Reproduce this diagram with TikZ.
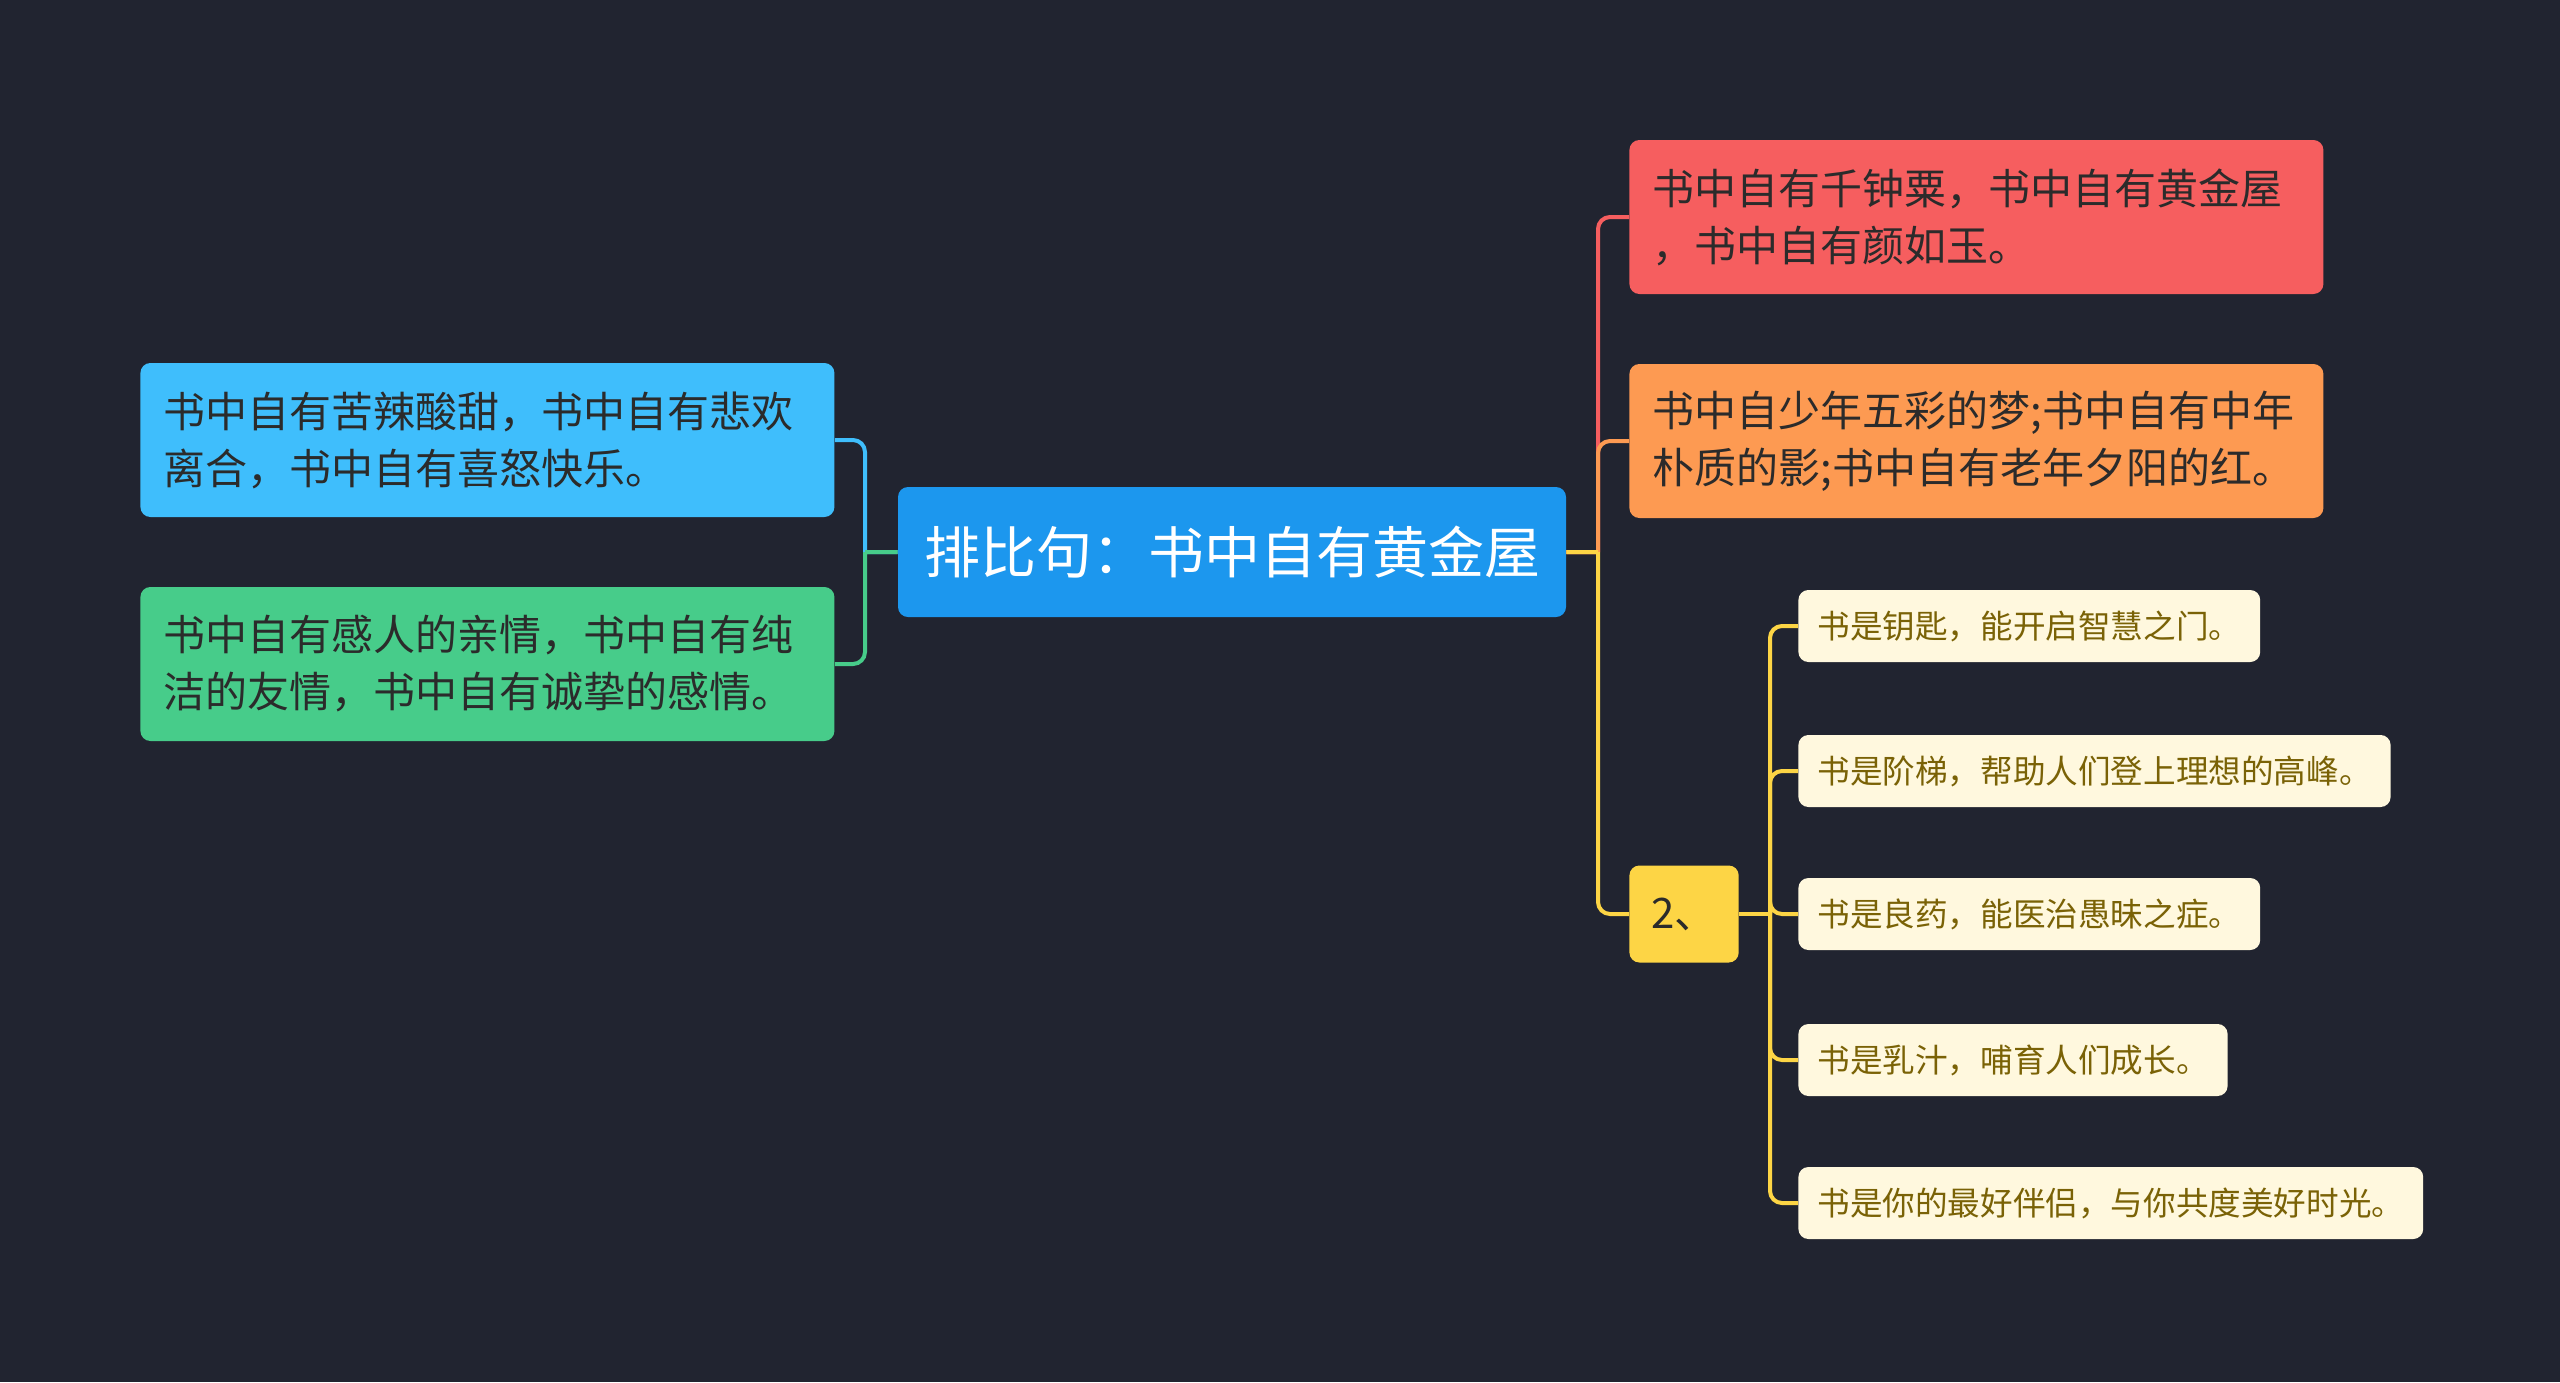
\documentclass[tikz,border=0pt]{standalone}
\usepackage{fontspec}
\newfontfamily\cjk{Noto Sans CJK SC}
\definecolor{canvas}{HTML}{212430}
\definecolor{rootblue}{HTML}{1C97EE}
\definecolor{skyblue}{HTML}{3FBEFC}
\definecolor{mintgreen}{HTML}{47CC8A}
\definecolor{coral}{HTML}{F65E5F}
\definecolor{apricot}{HTML}{FD9A52}
\definecolor{gold}{HTML}{FDD545}
\definecolor{cream}{HTML}{FFF8DE}
\definecolor{inkdark}{HTML}{2B2B2B}
\definecolor{inkbrown}{HTML}{7A6206}
\tikzset{
  rootbox/.style={fill=rootblue, rounded corners=5pt, text=white, inner xsep=13pt,
                  minimum height=65pt, font=\cjk\fontsize{28}{34}\selectfont},
  sidebox/.style={rounded corners=5pt, text=inkdark, text width=324pt, align=left,
                  inner xsep=11.5pt, minimum height=77pt, anchor=west,
                  font=\cjk\fontsize{21}{28.5}\selectfont},
  twobox/.style={fill=gold, rounded corners=5pt, text=inkdark, inner xsep=11pt,
                 minimum width=54pt, minimum height=48.5pt, anchor=west,
                 font=\cjk\fontsize{21}{26}\selectfont},
  leafbox/.style={fill=cream, rounded corners=5pt, text=inkbrown, inner xsep=9.5pt,
                  minimum height=36pt, anchor=west, font=\cjk\fontsize{16.3}{20}\selectfont},
  link/.style={line width=2pt, rounded corners=6pt},
}

\begin{document}
\begin{tikzpicture}[x=1pt, y=-1pt]
    \fill[canvas] (0,0) rectangle (1280,691);
    \useasboundingbox (0,0) rectangle (1280,691);

    \node[rootbox] (root) at (616, 276) {排比句：书中自有黄金屋};

    \node[sidebox, fill=skyblue] (bitter) at (70, 220) {书中自有苦辣酸甜，书中自有悲欢\\离合，书中自有喜怒快乐。};
    \node[sidebox, fill=mintgreen] (kin) at (70, 332) {书中自有感人的亲情，书中自有纯\\洁的友情，书中自有诚挚的感情。};

    \node[sidebox, fill=coral] (gold) at (814.5, 108.5) {书中自有千钟粟，书中自有黄金屋\\，书中自有颜如玉。};
    \node[sidebox, fill=apricot] (dream) at (814.5, 220.5) {书中自少年五彩的梦;书中自有中年\\朴质的影;书中自有老年夕阳的红。};
    \node[twobox] (two) at (814.5, 457) {2、};

    \node[leafbox] (leaf1) at (899, 313) {书是钥匙，能开启智慧之门。};
    \node[leafbox] (leaf2) at (899, 385.5) {书是阶梯，帮助人们登上理想的高峰。};
    \node[leafbox] (leaf3) at (899, 457) {书是良药，能医治愚昧之症。};
    \node[leafbox] (leaf4) at (899, 530) {书是乳汁，哺育人们成长。};
    \node[leafbox] (leaf5) at (899, 601.5) {书是你的最好伴侣，与你共度美好时光。};

    % trunks
    \coordinate (lt) at (432.5, 276);
    \coordinate (rt) at (799, 276);
    \coordinate (st) at (885, 457);

    \draw[link, skyblue] (root.west) -- (lt) (lt) |- (bitter.east);
    \draw[link, mintgreen] (root.west) -- (lt) (lt) |- (kin.east);

    \draw[link, coral] (root.east) -- (rt) (rt) |- (gold.west);
    \draw[link, apricot] (root.east) -- (rt) (rt) |- (dream.west);
    \draw[link, gold] (root.east) -- (rt) (rt) |- (two.west);

    \draw[link, gold] (two.east) -- (st);
    \foreach \n in {1,...,5}
      \draw[link, gold] (st) |- (leaf\n.west);
\end{tikzpicture}
\end{document}
